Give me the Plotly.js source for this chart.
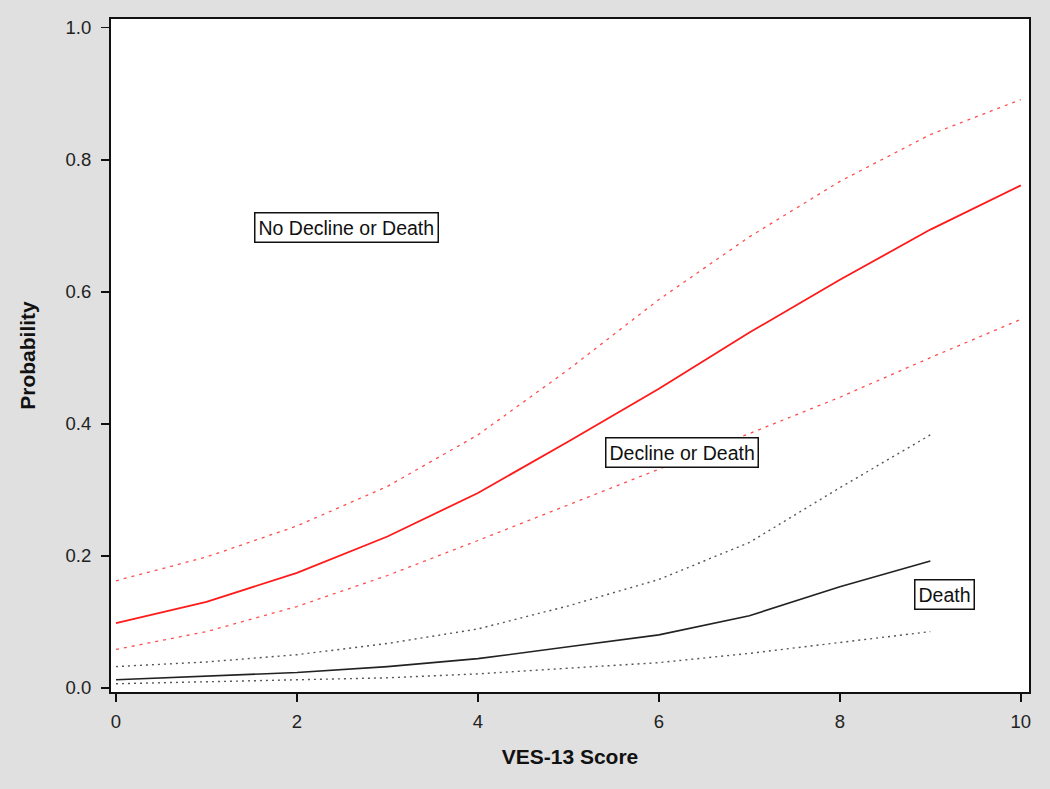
<!DOCTYPE html>
<html>
<head>
<meta charset="utf-8">
<script src="https://cdn.plot.ly/plotly-3.0.1.min.js"></script>
<style>html,body{margin:0;padding:0;background:#e0e0e0;}#chart{width:1050px;height:789px;}</style>
</head>
<body>
<div id="chart"></div>
<script>
const scoreAll = [0,1,2,3,4,5,6,7,8,9,10];
const scoreDeath = [0,1,2,3,4,5,6,7,8,9];
const declineEst   = [0.098,0.130,0.174,0.229,0.295,0.373,0.453,0.538,0.618,0.694,0.761];
const declineUpper = [0.162,0.198,0.245,0.305,0.383,0.482,0.588,0.683,0.767,0.838,0.891];
const declineLower = [0.058,0.085,0.123,0.170,0.223,0.277,0.330,0.385,0.440,0.500,0.558];
const deathEst   = [0.012,0.017,0.023,0.032,0.044,0.062,0.080,0.109,0.153,0.192];
const deathUpper = [0.032,0.039,0.050,0.067,0.089,0.124,0.164,0.220,0.303,0.383];
const deathLower = [0.006,0.009,0.012,0.015,0.021,0.030,0.038,0.052,0.068,0.085];
const labelText = ["No Decline or Death","Decline or Death","Death"];
const labelX = [2.55,6.25,9.16];
const labelY = [0.697,0.356,0.141];

const red = '#ff1a1a';
const traces = [
  {x: scoreAll, y: declineUpper, mode:'lines', line:{color:'#ff4d4d', width:1.3, dash:'3px,5px'}},
  {x: scoreAll, y: declineLower, mode:'lines', line:{color:'#ff4d4d', width:1.3, dash:'3px,5px'}},
  {x: scoreAll, y: declineEst, mode:'lines', line:{color:red, width:1.8}},
  {x: scoreDeath, y: deathUpper, mode:'lines', line:{color:'#555555', width:1.4, dash:'2px,4px'}},
  {x: scoreDeath, y: deathLower, mode:'lines', line:{color:'#555555', width:1.4, dash:'2px,4px'}},
  {x: scoreDeath, y: deathEst, mode:'lines', line:{color:'#222222', width:1.6}}
];
const annotations = labelText.map((t,i)=>({
  x: labelX[i], y: labelY[i], xref:'x', yref:'y', text: t, showarrow:false,
  font:{family:'Arial, Liberation Sans, sans-serif', size:19.5, color:'#111'},
  bgcolor:'#ffffff', bordercolor:'#111', borderwidth:1.5, borderpad:3
}));
const layout = {
  width:1050, height:789,
  paper_bgcolor:'#e0e0e0', plot_bgcolor:'#ffffff',
  margin:{l:111, r:21, t:19, b:97},
  showlegend:false,
  font:{family:'Arial, Liberation Sans, sans-serif', size:18, color:'#222'},
  xaxis:{range:[-0.055,10.09], tickvals:[0,2,4,6,8,10], ticktext:['0','2','4','6','8','10'],
    ticks:'outside', ticklen:8, tickwidth:1.8, tickcolor:'#111',
    showline:true, linecolor:'#111', linewidth:2, mirror:true, showgrid:false, zeroline:false,
    tickfont:{size:18.5, color:'#222'}, ticklabelstandoff:4,
    title:{text:'<b>VES-13 Score</b>', font:{size:21, color:'#111'}, standoff:18}},
  yaxis:{range:[-0.0065,1.013], tickvals:[0,0.2,0.4,0.6,0.8,1.0], ticktext:['0.0','0.2','0.4','0.6','0.8','1.0'],
    ticks:'outside', ticklen:8, tickwidth:1.8, tickcolor:'#111',
    showline:true, linecolor:'#111', linewidth:2, mirror:true, showgrid:false, zeroline:false,
    tickfont:{size:18.5, color:'#222'}, ticklabelstandoff:6,
    title:{text:'<b>Probability</b>', font:{size:21, color:'#111'}, standoff:24}},
  annotations: annotations
};
Plotly.newPlot('chart', traces, layout, {displayModeBar:false, staticPlot:true});
</script>
</body>
</html>
